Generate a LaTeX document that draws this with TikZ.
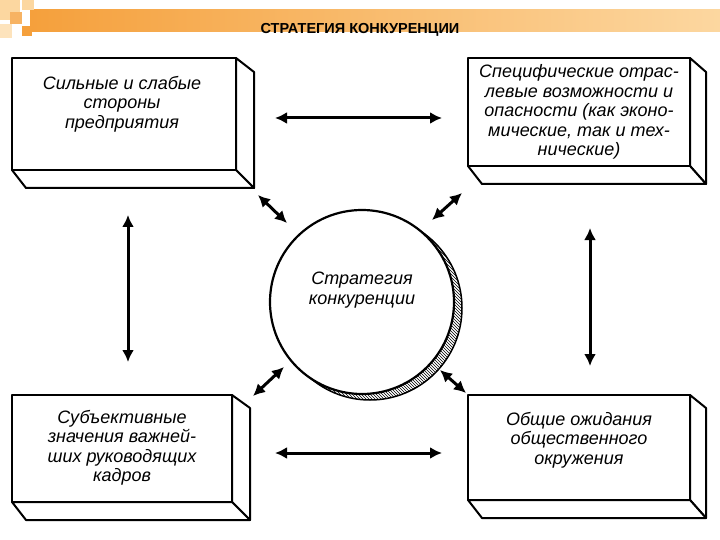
\documentclass[tikz,border=0pt]{standalone}
\usepackage{fontspec}
\setmainfont{Liberation Sans}
\usetikzlibrary{arrows.meta,patterns}
\definecolor{org}{RGB}{245,160,60}
\definecolor{lorg}{RGB}{252,215,160}
\tikzset{
 face/.style={draw,line width=2pt,fill=white,line join=round},
 lbl/.style={font=\itshape\fontsize{18}{19.5}\selectfont,align=center,inner sep=0},
 dbl/.style={line width=3pt,{Latex[length=12pt,width=12pt]}-{Latex[length=12pt,width=12pt]}}
}
\begin{document}
\begin{tikzpicture}[x=1pt,y=-1pt]
\useasboundingbox (0,0) rectangle (720,540);
\fill[white] (0,0) rectangle (720,540);
% header decoration
\shade[left color=org,right color=lorg] (30,10) rectangle (720,32);
\fill[lorg] (0,0) rectangle (20,20);
\fill[org!80] (10,12) rectangle (22,24);
\fill[lorg] (22,0) rectangle (34,10);
\fill[org] (22,26) rectangle (32,36);
\fill[lorg!70] (0,24) rectangle (12,38);
\node[font=\bfseries\fontsize{14.5}{16}\selectfont] (title) at (360,30) {СТРАТЕГИЯ КОНКУРЕНЦИИ};
% boxes
\draw[face] (236,58) -- (254,72) -- (254,188) -- (236,170) -- cycle;
\draw[face] (12,170) -- (26,188) -- (254,188) -- (236,170) -- cycle;
\draw[face] (12,58) rectangle (236,170);
\node[lbl] (b1) at (122,104) {Сильные и слабые\\стороны\\предприятия};
\draw[face] (690,58) -- (706,72) -- (706,184) -- (690,166) -- cycle;
\draw[face] (468,166) -- (482,184) -- (706,184) -- (690,166) -- cycle;
\draw[face] (468,58) rectangle (690,166);
\node[lbl] (b2) at (579,112) {Специфические отрас-\\левые возможности и\\опасности (как эконо-\\мические, так и тех-\\нические)};
\draw[face] (232,395) -- (250,408) -- (250,520) -- (232,502) -- cycle;
\draw[face] (12,502) -- (26,520) -- (250,520) -- (232,502) -- cycle;
\draw[face] (12,395) rectangle (232,502);
\node[lbl] (b3) at (122,448) {Субъективные\\значения важней-\\ших руководящих\\кадров};
\draw[face] (690,395) -- (706,408) -- (706,518) -- (690,500) -- cycle;
\draw[face] (468,500) -- (482,518) -- (706,518) -- (690,500) -- cycle;
\draw[face] (468,395) rectangle (690,500);
\node[lbl] (b4) at (579,440) {Общие ожидания\\общественного\\окружения};
% circle
\fill[white] (370,308) circle (92);
\draw[line width=1.5pt,pattern=north west lines] (370,308) circle (92);
\draw[line width=2.2pt,fill=white] (362,302) circle (92);
\node[lbl] (c) at (362,290) {Стратегия\\конкуренции};
% arrows
\coordinate (a1) at (275,118); \coordinate (a2) at (442,118);
\draw[dbl] (a1) -- (a2);
\coordinate (a3) at (275,453); \coordinate (a4) at (442,453);
\draw[dbl] (a3) -- (a4);
\coordinate (a5) at (128,215); \coordinate (a6) at (128,362);
\draw[dbl] (a5) -- (a6);
\coordinate (a7) at (590,228); \coordinate (a8) at (590,366);
\draw[dbl] (a7) -- (a8);
\coordinate (d1) at (258,195); \coordinate (d2) at (287,223);
\draw[dbl] (d1) -- (d2);
\coordinate (d3) at (462,193); \coordinate (d4) at (432,220);
\draw[dbl] (d3) -- (d4);
\coordinate (d5) at (253,396); \coordinate (d6) at (284,367);
\draw[dbl] (d5) -- (d6);
\coordinate (d7) at (440,370); \coordinate (d8) at (466,393);
\draw[dbl] (d7) -- (d8);
\end{tikzpicture}
\end{document}
